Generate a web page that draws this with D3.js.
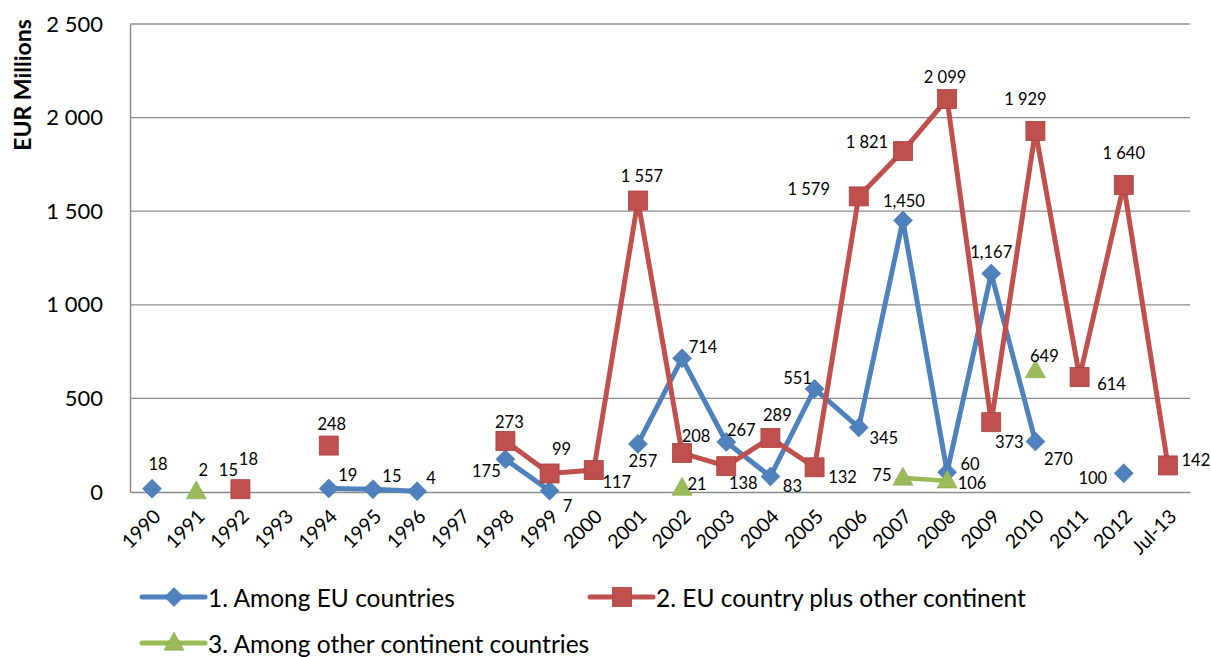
<!DOCTYPE html>
<html>
<head>
<meta charset="utf-8">
<script src="https://cdn.jsdelivr.net/npm/d3@7"></script>
<style>
  html, body { margin: 0; padding: 0; background: #fff; }
  svg { display: block; }
  text { font-family: Lato, "Open Sans", sans-serif; fill: #000; }
</style>
</head>
<body>
<svg id="chart" width="1211" height="657"></svg>
<script>
// ---------- DATA ----------
const categories = ["1990","1991","1992","1993","1994","1995","1996","1997","1998","1999","2000","2001","2002","2003","2004","2005","2006","2007","2008","2009","2010","2011","2012","Jul-13"];
const seriesNames = ["1. Among EU countries", "2. EU country plus other continent", "3. Among other continent countries"];
const euValues    = [18, null, 18, null, 19, 15, 4, null, 175, 7, null, 257, 714, 267, 83, 551, 345, 1450, 106, 1167, 270, null, 100, null];
const mixValues   = [null, null, 15, null, 248, null, null, null, 273, 99, 117, 1557, 208, 138, 289, 132, 1579, 1821, 2099, 373, 1929, 614, 1640, 142];
const otherValues = [null, 2, null, null, null, null, null, null, null, null, null, null, 21, null, null, null, null, 75, 60, null, 649, null, null, null];
const yTicks = [0, 500, 1000, 1500, 2000, 2500];
const yTickLabels = ["0", "500", "1 000", "1 500", "2 000", "2 500"];

// ---------- LAYOUT / STYLE ----------
const W = 1211, H = 657;
const plot = { left: 130, right: 1190, top: 24, bottom: 492 };
const colors = ["#4F81BD", "#C0504D", "#9BBB59"];

// label offsets (dx, dy) per series, keyed by category index
const labelOffsets = [
  {0:[6,-25],2:[8,-30],4:[19,-13],5:[19,-13],6:[14,-13],8:[-19,12],9:[18,15],11:[5,17],12:[21,-11],13:[15,-12],14:[22,10],15:[-17,-11],16:[25,11],17:[1,-20],18:[25,11],19:[0,-22],20:[23,18],22:[-31,5]},
  {2:[-12,-19],4:[3,-22],8:[4,-19],9:[12,-24],10:[23,12],11:[4,-25],12:[14,-17],13:[17,17],14:[7,-23],15:[28,10],16:[-50,-7],17:[-36,-9],18:[-2,-22],19:[18,20],20:[-10,-32],21:[32,7],22:[0,-32],23:[28,-5]},
  {1:[7,-22],12:[15,-4],17:[-21,-3],18:[23,-17],20:[9,-15]}
];
const fmtSpace = v => d3.format(",")(v).replace(/,/g, " ");
const fmtComma = v => d3.format(",")(v);
const labelFormats = [fmtComma, fmtSpace, fmtSpace];

const svg = d3.select("#chart");

const x = d3.scaleBand().domain(categories).range([plot.left, plot.right]).padding(0);
const cx = c => x(c) + x.bandwidth() / 2;
const y = d3.scaleLinear().domain([0, 2500]).range([plot.bottom, plot.top]);

// gridlines
svg.append("g").selectAll("line").data(yTicks.filter(t => t > 0)).join("line")
  .attr("x1", plot.left).attr("x2", plot.right)
  .attr("y1", d => y(d)).attr("y2", d => y(d))
  .attr("stroke", "#8c8c8c").attr("stroke-width", 1.3);

// y axis
const yAxis = d3.axisLeft(y).tickValues(yTicks).tickFormat((d, i) => yTickLabels[i]).tickSize(0).tickPadding(27);
const gy = svg.append("g").attr("transform", `translate(${plot.left},0)`).call(yAxis);
gy.select(".domain").attr("stroke", "#8c8c8c").attr("stroke-width", 1.5);
gy.selectAll("text").attr("font-size", 22).attr("font-family", "Lato, sans-serif").attr("fill", "#000");

// x axis
const xAxis = d3.axisBottom(x).tickSize(0).tickPadding(0);
const gx = svg.append("g").attr("transform", `translate(0,${plot.bottom})`).call(xAxis);
gx.select(".domain").attr("stroke", "#8c8c8c").attr("stroke-width", 1.5);
gx.selectAll("text")
  .attr("font-size", 19.5).attr("font-family", "Lato, sans-serif").attr("fill", "#000")
  .attr("text-anchor", "end")
  .attr("dy", "0.35em")
  .attr("transform", "translate(5,21) rotate(-45)")
  .attr("y", 0).attr("x", 0);

// y title
svg.append("text")
  .attr("transform", `translate(31,${85}) rotate(-90)`)
  .attr("text-anchor", "middle")
  .attr("font-size", 23).attr("font-weight", "bold")
  .text("EUR Millions");

// marker shapes
function marker(g, type, color, px, py) {
  if (type === 0) {
    const s = 9.5;
    g.append("path").attr("d", `M${px},${py - s}L${px + s},${py}L${px},${py + s}L${px - s},${py}Z`)
      .attr("fill", color).attr("stroke", "#3f6fa8").attr("stroke-width", 0.6);
  } else if (type === 1) {
    const s = 9.5;
    g.append("rect").attr("x", px - s).attr("y", py - s).attr("width", 2 * s).attr("height", 2 * s)
      .attr("fill", color).attr("stroke", "#a8413e").attr("stroke-width", 0.8);
  } else {
    const w = 10, h = 18;
    g.append("path").attr("d", `M${px},${py - h * 0.6}L${px + w},${py + h * 0.4}L${px - w},${py + h * 0.4}Z`)
      .attr("fill", color).attr("stroke", "#86a64a").attr("stroke-width", 0.6);
  }
}

const allSeries = [euValues, mixValues, otherValues];
const lineWidths = [5, 5, 4.5];

allSeries.forEach((vals, si) => {
  const g = svg.append("g");
  const pts = categories.map((c, i) => ({ c, i, v: vals[i] }));
  const line = d3.line().defined(d => d.v !== null).x(d => cx(d.c)).y(d => y(d.v));
  g.append("path").datum(pts).attr("d", line)
    .attr("fill", "none").attr("stroke", colors[si]).attr("stroke-width", lineWidths[si])
    .attr("stroke-linejoin", "round").attr("stroke-linecap", "round");
  pts.filter(d => d.v !== null).forEach(d => marker(g, si, colors[si], cx(d.c), y(d.v)));
});

// data labels (drawn above all series)
const lg = svg.append("g");
allSeries.forEach((vals, si) => {
  categories.forEach((c, i) => {
    const v = vals[i];
    if (v === null) return;
    const off = labelOffsets[si][i] || [0, -20];
    lg.append("text")
      .attr("x", cx(c) + off[0]).attr("y", y(v) + off[1])
      .attr("text-anchor", "middle").attr("dominant-baseline", "central")
      .attr("font-size", 16.5)
      .text(labelFormats[si](v));
  });
});

// legend
const legendItems = [
  { si: 0, x: 142, y: 597 },
  { si: 1, x: 590, y: 597 },
  { si: 2, x: 142, y: 643 }
];
const leg = svg.append("g");
legendItems.forEach(it => {
  const c = colors[it.si];
  leg.append("line").attr("x1", it.x).attr("x2", it.x + 63).attr("y1", it.y).attr("y2", it.y)
    .attr("stroke", c).attr("stroke-width", 5).attr("stroke-linecap", "round");
  marker(leg, it.si, c, it.x + 32, it.y);
  leg.append("text").attr("x", it.x + 66).attr("y", it.y).attr("dominant-baseline", "central")
    .attr("font-size", 24.5).text(seriesNames[it.si]);
});
</script>
</body>
</html>
